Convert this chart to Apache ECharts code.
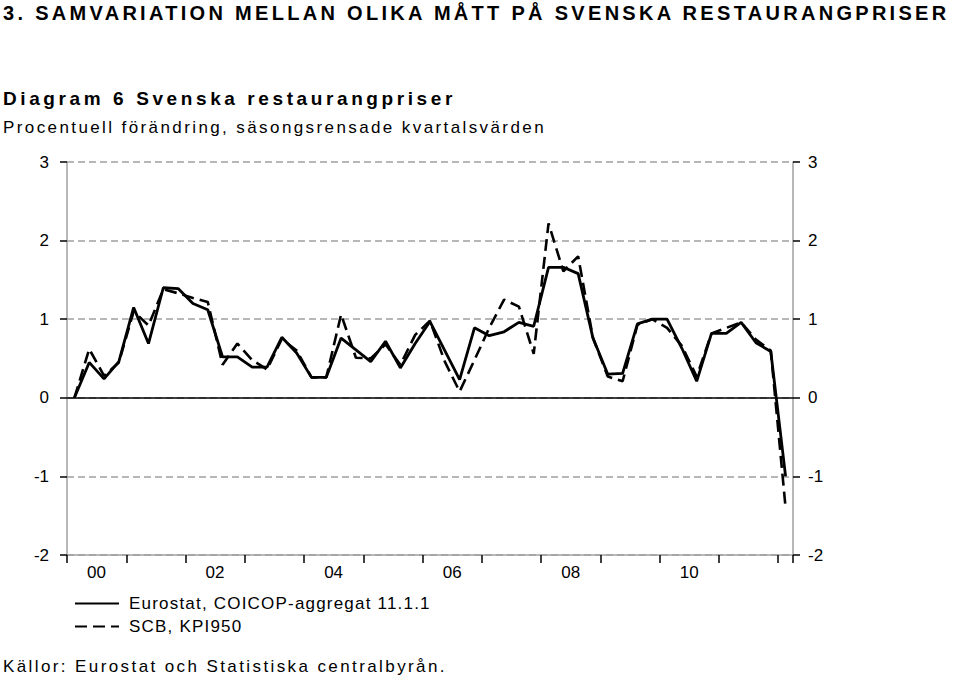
<!DOCTYPE html>
<html>
<head>
<meta charset="utf-8">
<script src="https://cdn.jsdelivr.net/npm/echarts@6/dist/echarts.min.js"></script>
<style>
html,body{margin:0;padding:0;background:#fff;}
#chart{width:960px;height:679px;}
</style>
</head>
<body>
<div id="chart"></div>
<script>
// ---- data ----
const categories = [
 '2000 K1','2000 K2','2000 K3','2000 K4',
 '2001 K1','2001 K2','2001 K3','2001 K4',
 '2002 K1','2002 K2','2002 K3','2002 K4',
 '2003 K1','2003 K2','2003 K3','2003 K4',
 '2004 K1','2004 K2','2004 K3','2004 K4',
 '2005 K1','2005 K2','2005 K3','2005 K4',
 '2006 K1','2006 K2','2006 K3','2006 K4',
 '2007 K1','2007 K2','2007 K3','2007 K4',
 '2008 K1','2008 K2','2008 K3','2008 K4',
 '2009 K1','2009 K2','2009 K3','2009 K4',
 '2010 K1','2010 K2','2010 K3','2010 K4',
 '2011 K1','2011 K2','2011 K3','2011 K4',
 '2012 K1'
];
const eurostat = [
 0.00, 0.45, 0.24, 0.46,
 1.15, 0.69, 1.40, 1.39,
 1.20, 1.12, 0.52, 0.52,
 0.39, 0.39, 0.77, 0.57,
 0.26, 0.26, 0.76, 0.61,
 0.46, 0.72, 0.38, 0.69,
 0.97, 0.60, 0.23, 0.89,
 0.79, 0.84, 0.96, 0.91,
 1.66, 1.66, 1.58, 0.76,
 0.30, 0.31, 0.94, 1.00,
 1.00, 0.63, 0.21, 0.82,
 0.82, 0.96, 0.70, 0.59,
 -1.00
];
const scb = [
 0.00, 0.62, 0.28, 0.45,
 1.10, 0.92, 1.38, 1.33,
 1.27, 1.22, 0.42, 0.69,
 0.48, 0.36, 0.75, 0.60,
 0.26, 0.26, 1.06, 0.51,
 0.50, 0.68, 0.42, 0.80,
 0.98, 0.46, 0.08, 0.48,
 0.89, 1.25, 1.16, 0.56,
 2.22, 1.61, 1.80, 0.76,
 0.27, 0.21, 0.93, 1.00,
 0.89, 0.66, 0.27, 0.82,
 0.89, 0.96, 0.74, 0.60,
 -1.40
];
const xTickLabels = ['00','02','04','06','08','10'];
const seriesNames = ['Eurostat, COICOP-aggregat 11.1.1', 'SCB, KPI950'];
const titleText = '3. SAMVARIATION MELLAN OLIKA MÅTT PÅ SVENSKA RESTAURANGPRISER';
const diagramText = 'Diagram 6 Svenska restaurangpriser';
const subText = 'Procentuell förändring, säsongsrensade kvartalsvärden';
const sourceText = 'Källor: Eurostat och Statistiska centralbyrån.';

// ---- chart ----
const FONT = '"Liberation Sans", Arial, Helvetica, sans-serif';
const chart = echarts.init(document.getElementById('chart'), null, {renderer: 'svg'});

const yAxisBase = {
  type: 'value', min: -2, max: 3, interval: 1,
  axisLine: {show: true, lineStyle: {color: '#a0a0a0', width: 1.5}},
  axisTick: {show: true, length: 7, inside: false, lineStyle: {color: '#000', width: 1.5}},
  axisLabel: {color: '#000', fontSize: 17, fontFamily: FONT}
};

const option = {
  animation: false,
  backgroundColor: '#fff',
  title: [
    {text: titleText, left: 3, top: 3, padding: 0,
     textStyle: {fontSize: 20, fontWeight: 'bold', color: '#000', fontFamily: FONT}},
    {text: diagramText, left: 3, top: 89, padding: 0,
     textStyle: {fontSize: 19, fontWeight: 'bold', color: '#000', fontFamily: FONT}},
    {text: subText, left: 3, top: 119, padding: 0,
     textStyle: {fontSize: 17, fontWeight: 'normal', color: '#000', fontFamily: FONT}},
    {text: sourceText, left: 3, top: 658, padding: 0,
     textStyle: {fontSize: 17, fontWeight: 'normal', color: '#000', fontFamily: FONT}}
  ],
  legend: {
    orient: 'vertical', left: 74, top: 595, padding: 0,
    itemWidth: 44, itemHeight: 14, itemGap: 6,
    data: seriesNames,
    itemStyle: {opacity: 0, borderWidth: 0},
    textStyle: {fontSize: 17, color: '#000', fontFamily: FONT, padding: [0, 0, 0, 5]}
  },
  grid: {left: 67, right: 167, top: 162, bottom: 124, containLabel: false},
  xAxis: {
    type: 'category', data: categories, boundaryGap: true,
    axisLine: {show: true, onZero: false, lineStyle: {color: '#a0a0a0', width: 1.5}},
    axisTick: {show: true, interval: 3, length: 8, lineStyle: {color: '#000', width: 1.5}},
    axisLabel: {
      interval: (idx) => idx % 8 === 2,
      formatter: (v, idx) => xTickLabels[(idx - 2) / 8] || '',
      color: '#000', fontSize: 17, fontFamily: FONT, margin: 9,
      padding: [0, 15, 0, 0]
    },
    splitLine: {show: false}
  },
  yAxis: [
    Object.assign({}, yAxisBase, {
      position: 'left',
      axisLabel: Object.assign({}, yAxisBase.axisLabel, {margin: 18}),
      splitLine: {show: true, lineStyle: {color: '#a0a0a0', width: 1.5, type: [7, 4]}}
    }),
    Object.assign({}, yAxisBase, {
      position: 'right',
      axisLabel: Object.assign({}, yAxisBase.axisLabel, {margin: 15}),
      splitLine: {show: false}
    })
  ],
  series: [
    {
      name: seriesNames[0], type: 'line', data: eurostat, yAxisIndex: 0,
      symbol: 'none', z: 4,
      lineStyle: {color: '#000', width: 2.8, type: 'solid'},
      itemStyle: {color: '#000'},
      markLine: {
        silent: true, symbol: 'none', label: {show: false},
        lineStyle: {color: '#000', width: 1.5, type: 'solid'},
        data: [{yAxis: 0}]
      }
    },
    {
      name: seriesNames[1], type: 'line', data: scb, yAxisIndex: 0,
      symbol: 'none', z: 3,
      lineStyle: {color: '#000', width: 2.6, type: [12, 6]},
      itemStyle: {color: '#000'}
    }
  ]
};
chart.setOption(option);

const spacing = {};
spacing[titleText] = 3.3;
spacing[diagramText] = 3.6;
spacing[subText] = 2.4;
spacing[sourceText] = 2.4;
spacing[seriesNames[0]] = 1.2;
spacing[seriesNames[1]] = 1.2;
function applySpacing() {
  document.querySelectorAll('#chart text').forEach(t => {
    const s = spacing[t.textContent.trim()];
    if (s) t.setAttribute('letter-spacing', s);
  });
}
try { chart.getZr().flush(); } catch (e) {}
applySpacing();
chart.on('finished', applySpacing);
setTimeout(applySpacing, 50);
</script>
</body>
</html>
